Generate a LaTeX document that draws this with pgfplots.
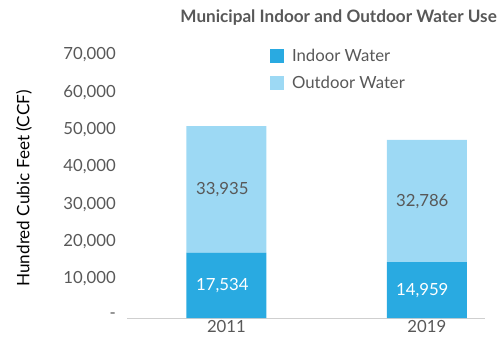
\documentclass[border=0pt]{standalone}
\usepackage{pgfplots}
\pgfplotsset{compat=1.18}
\usepackage{fontspec}
\setmainfont{Lato}
\definecolor{indoor}{HTML}{29AAE1}
\definecolor{outdoor}{HTML}{9DD9F4}
\definecolor{txtgray}{HTML}{585858}
\definecolor{axgray}{HTML}{CFCFCF}
\newcommand{\fs}{\fontsize{16.8}{20}\selectfont}
\begin{document}
\begin{tikzpicture}
\path[use as bounding box] (0bp,0bp) rectangle (499bp,337bp);
\begin{axis}[
  at={(127bp,19bp)}, anchor=south west,
  scale only axis, width=358bp, height=261bp,
  xmin=-0.496, xmax=1.29, ymin=0, ymax=70000,
  scaled y ticks=false,
  ybar stacked, bar width=80bp,
  axis x line*=bottom, axis y line*=left,
  x axis line style={-, draw=axgray, line width=1bp},
  y axis line style={draw=none},
  major tick length=0pt,
  xtick={0,1}, xticklabels={2011,2019},
  ytick={0,10000,20000,30000,40000,50000,60000,70000},
  yticklabels={-,{10,000},{20,000},{30,000},{40,000},{50,000},{60,000},{70,000}},
  ticklabel style={font=\fs, text=txtgray},
  yticklabel style={inner sep=0pt, anchor=east, xshift=-11bp, yshift=2bp},
  xticklabel style={inner sep=0pt, anchor=north, yshift=-2.5bp},
  clip=false,
  legend style={at={(0.399,1.04)}, anchor=north west, draw=none, fill=none,
    font=\fs, text=txtgray, inner sep=0pt,
    row sep=10bp, legend cell align=left,
    /tikz/every odd column/.append style={column sep=6bp}},
  legend image code/.code={\fill[#1] (0bp,-7bp) rectangle (14bp,7bp);},
]
\addplot[fill=indoor, draw=none] coordinates {(0,17534) (1,14959)};
\addplot[fill=outdoor, draw=none] coordinates {(0,33935) (1,32786)};
\legend{Indoor Water, Outdoor Water}
\end{axis}
\begin{axis}[
  at={(127bp,19bp)}, anchor=south west,
  scale only axis, width=358bp, height=261bp,
  xmin=-0.496, xmax=1.29, ymin=0, ymax=70000,
  hide axis, clip=false,
]
\node[font=\fs, text=white] at (axis cs:-0.02,8767) {17,534};
\node[font=\fs, text=white] at (axis cs:0.977,7480) {14,959};
\node[font=\fs, text=txtgray] at (axis cs:-0.02,34501) {33,935};
\node[font=\fs, text=txtgray] at (axis cs:0.977,31352) {32,786};
\end{axis}
\node[anchor=east, font=\bfseries\fontsize{17.2}{20}\selectfont, text=txtgray, inner sep=0pt] at (497bp,319bp) {Municipal Indoor and Outdoor Water Use};
\node[rotate=90, font=\fontsize{17.2}{20}\selectfont, text=black, inner sep=0pt] at (24bp,148.5bp) {Hundred Cubic Feet (CCF)};
\end{tikzpicture}
\end{document}
